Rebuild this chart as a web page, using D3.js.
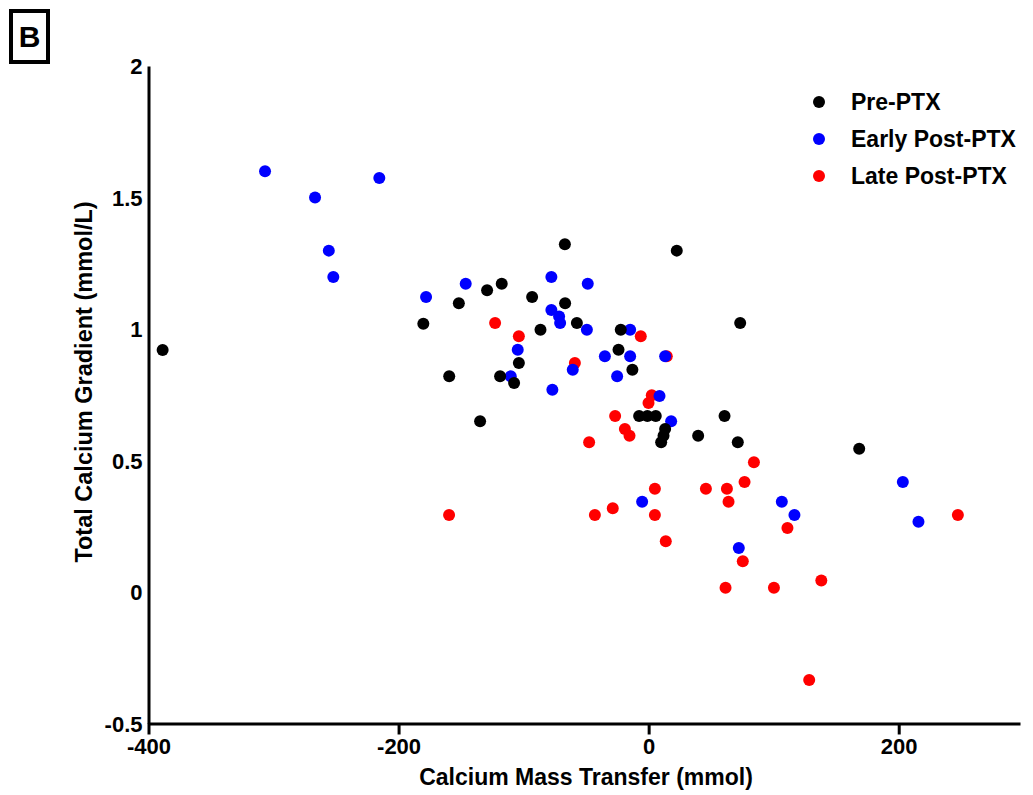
<!DOCTYPE html>
<html>
<head>
<meta charset="utf-8">
<script src="https://cdn.jsdelivr.net/npm/d3@7"></script>
<style>
  body { margin: 0; background: #fff; }
  svg text { font-family: "Liberation Sans", Arial, sans-serif; font-weight: bold; fill: #000; }
</style>
</head>
<body>
<div id="chart"></div>
<script>
// Calcium mass transfer (mmol) vs total calcium gradient (mmol/L)
const preX = [-388.7, -180.2, -159.5, -67, 22.5, -117.5, -129.2, -93.2, -151.8, -66.8, -57.4, -86.5, -22.3,
  -24.1, -103.8, -13, -118.8, -107.6, -134.8, -7.6, -1, 5.7, 13.2, 11.9, 10, 60.7, 39.6, 71.3, 168.4, 73.2];
const preY = [0.92, 1.02, 0.82, 1.322, 1.298, 1.172, 1.147, 1.122, 1.098, 1.098, 1.023, 0.997, 0.997,
  0.921, 0.871, 0.845, 0.82, 0.795, 0.649, 0.669, 0.669, 0.669, 0.62, 0.594, 0.569, 0.669, 0.594, 0.569, 0.545, 1.023];

const earlyX = [-306.8, -266.8, -215.4, -255.8, -252.2, -178, -77.8, -48.7, -146.3, -77.8, -71.6, -70.8, -49.4,
  -14.8, -104.7, -35, -14.8, 13.2, -60.7, -110.3, -25.2, -77, 8.7, 18, -5.2, 106.5, 116.6, 72.1, 203.3, 215.8];
const earlyY = [1.60, 1.50, 1.574, 1.298, 1.198, 1.122, 1.198, 1.172, 1.172, 1.072, 1.048, 1.023, 0.997,
  0.997, 0.921, 0.896, 0.896, 0.896, 0.845, 0.82, 0.82, 0.769, 0.745, 0.649, 0.343, 0.343, 0.293, 0.167, 0.418, 0.267];

const lateX = [-122.8, -103.8, -6.3, 14.5, -59, 2.5, -0.1, -26.8, -19, -15.3, -47.6, 84.2, 76.7, 5, 45.8,
  62.6, 63.9, 111, -43, -28.7, 5, 13.7, 75.3, 61.5, 100.2, 138.1, 247.3, 128.4, -159.6];
const lateY = [1.023, 0.972, 0.972, 0.896, 0.871, 0.748, 0.719, 0.669, 0.62, 0.594, 0.569, 0.493, 0.418, 0.393, 0.393,
  0.393, 0.343, 0.243, 0.293, 0.318, 0.293, 0.193, 0.117, 0.016, 0.016, 0.044, 0.293, -0.335, 0.293];

const seriesNames = ['Pre-PTX', 'Early Post-PTX', 'Late Post-PTX'];
const seriesColors = ['#000000', '#0000ff', '#ff0000'];
const xTicks = [-400, -200, 0, 200];
const yTicks = [-0.5, 0, 0.5, 1, 1.5, 2];

const width = 1033, height = 795;

const svg = d3.select('#chart')
  .append('svg')
  .attr('width', width)
  .attr('height', height);

const x = d3.scaleLinear().domain([-400, 297]).range([148.5, 1020]);
const y = d3.scaleLinear().domain([-0.5, 2]).range([723.5, 66]);

// Panel label "B"
svg.append('rect')
  .attr('x', 11).attr('y', 11).attr('width', 37).attr('height', 51)
  .attr('fill', 'none').attr('stroke', '#000').attr('stroke-width', 4);
svg.append('text')
  .attr('x', 29.5).attr('y', 47)
  .attr('text-anchor', 'middle')
  .style('font-size', '30px')
  .text('B');

// Axes
const xAxis = svg.append('g')
  .attr('transform', `translate(0,${y(-0.5)})`)
  .call(d3.axisBottom(x).tickValues(xTicks).tickSize(11).tickSizeOuter(0).tickPadding(4).tickFormat(d => String(d)));

const yAxis = svg.append('g')
  .attr('transform', `translate(${x(-400)},0)`)
  .call(d3.axisLeft(y).tickValues(yTicks).tickSize(0).tickSizeOuter(0).tickPadding(6).tickFormat(d => String(d)));

[xAxis, yAxis].forEach(g => {
  g.select('.domain').attr('stroke', '#000').attr('stroke-width', 3);
  g.selectAll('.tick line').attr('stroke', '#000').attr('stroke-width', 3);
  g.selectAll('.tick text').style('font-size', '22px').style('font-family', '"Liberation Sans", Arial, sans-serif').style('font-weight', 'bold');
});
yAxis.selectAll('.tick text').attr('dy', '0.35em');

// Axis titles
svg.append('text')
  .attr('x', 586).attr('y', 785)
  .attr('text-anchor', 'middle')
  .style('font-size', '23px')
  .text('Calcium Mass Transfer (mmol)');

svg.append('text')
  .attr('transform', 'translate(92,382) rotate(-90)')
  .attr('text-anchor', 'middle')
  .style('font-size', '23.5px')
  .text('Total Calcium Gradient (mmol/L)');

// Points: late first, then early, then pre
const series = [
  { xs: lateX, ys: lateY, color: seriesColors[2] },
  { xs: earlyX, ys: earlyY, color: seriesColors[1] },
  { xs: preX, ys: preY, color: seriesColors[0] }
];

series.forEach(s => {
  svg.append('g')
    .selectAll('circle')
    .data(s.xs.map((v, i) => [v, s.ys[i]]))
    .enter()
    .append('circle')
    .attr('cx', d => x(d[0]))
    .attr('cy', d => y(d[1]))
    .attr('r', 6)
    .attr('fill', s.color);
});

// Legend
const legend = svg.append('g').attr('transform', 'translate(819,102)');
seriesNames.forEach((name, i) => {
  legend.append('circle')
    .attr('cx', 0).attr('cy', i * 37)
    .attr('r', 6)
    .attr('fill', seriesColors[i]);
  legend.append('text')
    .attr('x', 32).attr('y', i * 37)
    .attr('dy', '0.35em')
    .style('font-size', '23px')
    .text(name);
});
</script>
</body>
</html>
